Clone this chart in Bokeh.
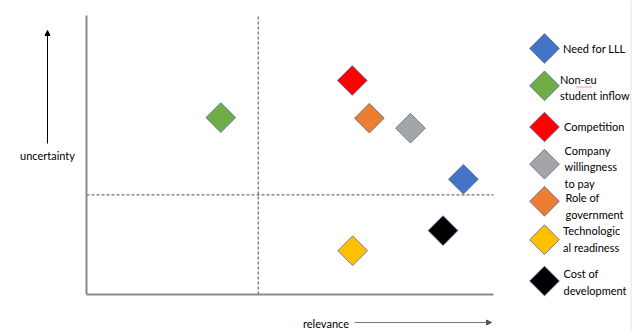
import numpy as np
from bokeh.plotting import figure
from bokeh.models import Arrow, NormalHead
from bokeh.core.properties import value
from bokeh.embed import file_html
from bokeh.resources import INLINE

# ---- data ----
factors = ["Need for LLL", "Non-eu\nstudent inflow", "Competition",
           "Company\nwillingness\nto pay", "Role of\ngovernment",
           "Technologic\nal readiness", "Cost of\ndevelopment"]
relevance = [9.26, 3.30, 6.53, 7.96, 6.95, 6.54, 8.76]
uncertainty = [4.13, 6.34, 7.67, 5.96, 6.32, 1.57, 2.29]
colors = ["#4472C4", "#70AD47", "#FF0000", "#A5A5A5", "#ED7D31", "#FFC000", "#000000"]
relevance_split = 4.22
uncertainty_split = 3.57
axis_max = 10

# ---- layout (pixels) ----
W, H = 635, 330
BOX_L, BOX_R, BOX_T, BOX_B = 86, 493, 15, 294
kx = (BOX_R - BOX_L) / axis_max
ky = (BOX_B - BOX_T) / axis_max


def dx(px):
    return (px - BOX_L) / kx


def dy(py):
    return (BOX_B - py) / ky


FONT = value("Lato")
TXT = "#000000"

p = figure(width=W, height=H, x_range=(dx(0), dx(W)), y_range=(dy(H), dy(0)),
           output_backend="svg", toolbar_location=None, min_border=0,
           x_axis_location=None, y_axis_location=None, outline_line_color=None,
           background_fill_color="white", border_fill_color="white")
p.grid.visible = False

# right page border
p.segment(x0=[dx(630.5)], y0=[dy(0)], x1=[dx(630.5)], y1=[dy(H)],
          line_color="#e2e2e2", line_width=1)

# quadrant dashed lines
p.segment(x0=[relevance_split, 0], y0=[0, uncertainty_split],
          x1=[relevance_split, axis_max], y1=[axis_max, uncertainty_split],
          line_color="#707070", line_width=1.3, line_dash="3 2")

# axes
p.segment(x0=[0, 0], y0=[0, 0], x1=[0, axis_max], y1=[axis_max, 0],
          line_color="#8a8a8a", line_width=2)

# points
p.scatter(relevance, uncertainty, marker="square", angle=np.pi / 4, size=21,
          fill_color=colors, line_color="#4a6aa5", line_width=0.8)

# legend
leg_marker_y = [48, 85.3, 126.5, 163.7, 200.8, 239.2, 280.5]
leg_text_y = [48, 87, 126.3, 166.3, 205.7, 238.3, 281.3]
leg_text_x = [562.5, 559.5, 563.5, 564, 565, 562.5, 563]
p.scatter([dx(544)] * len(factors), [dy(v) for v in leg_marker_y], marker="square",
          angle=np.pi / 4, size=21, fill_color=colors, line_color="#4a6aa5", line_width=0.8)
p.text([dx(v) for v in leg_text_x], [dy(v) for v in leg_text_y], text=factors,
       text_font=FONT, text_font_size="11px", text_color=TXT,
       text_align="left", text_baseline="middle", text_line_height=1.27)

# spell-check squiggle under "eu"
p.line([dx(576), dx(591)], [dy(86.5), dy(86.5)], line_color="#e03030",
       line_width=1, line_dash="1 1")

# axis titles
p.text([dx(47)], [dy(155)], text=["uncertainty"], text_font=FONT, text_font_size="11px",
       text_color=TXT, text_align="center", text_baseline="middle")
p.add_layout(Arrow(end=NormalHead(size=5, fill_color="black", line_color="black"),
                   x_start=dx(47), y_start=dy(143), x_end=dx(47), y_end=dy(30),
                   line_width=1, line_color="black"))

p.text([dx(302.5)], [dy(322.5)], text=["relevance"], text_font=FONT, text_font_size="11px",
       text_color=TXT, text_align="left", text_baseline="middle")
p.add_layout(Arrow(end=NormalHead(size=5, fill_color="#555555", line_color="#555555"),
                   x_start=dx(354), y_start=dy(322), x_end=dx(491), y_end=dy(322),
                   line_width=1, line_color="#777777"))

open("out.html", "w").write(file_html(p, INLINE))
